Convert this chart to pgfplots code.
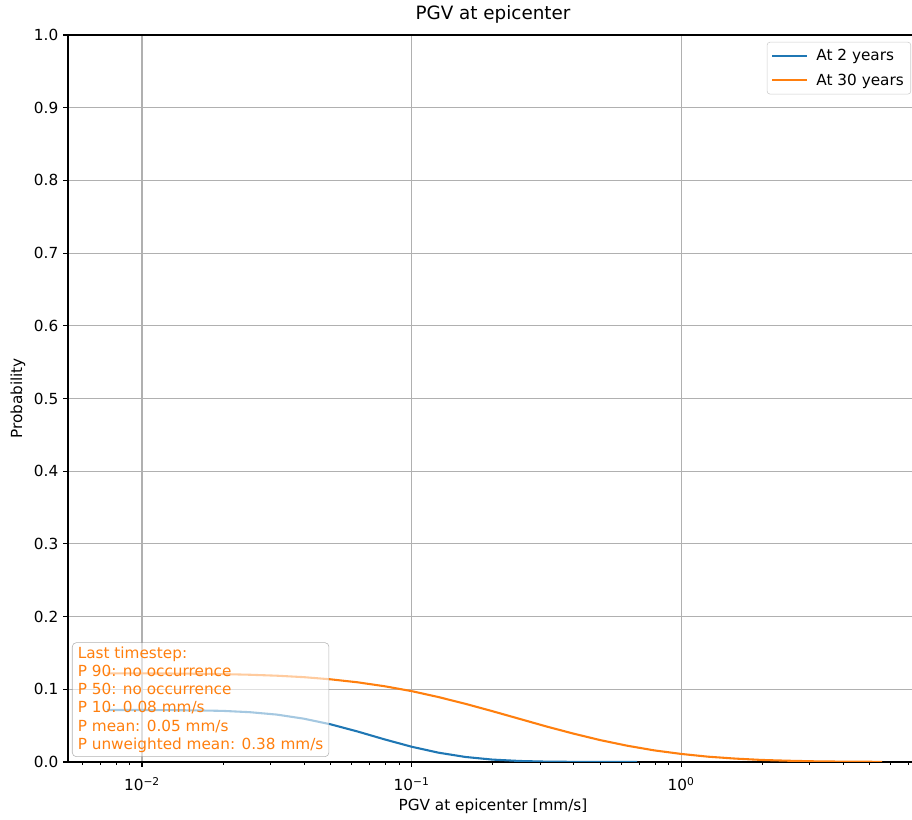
\documentclass[border=0pt]{standalone}
\usepackage{fontspec}
\setmainfont{DejaVu Sans}
\usepackage{pgfplots}
\pgfplotsset{compat=1.18}
\definecolor{c0}{HTML}{1F77B4}
\definecolor{c1}{HTML}{FF7F0E}
\definecolor{gridgray}{HTML}{B0B0B0}
\definecolor{legendgray}{HTML}{CCCCCC}
\definecolor{boxgray}{HTML}{808080}
\begin{document}
\begin{tikzpicture}
\path[use as bounding box] (-48.96pt,-41.76pt) rectangle (607.68pt,548.64pt);
\begin{axis}[
  at={(0,0)}, anchor=south west,
  scale only axis, width=612pt, height=523.44pt,
  xmode=log, xmin=0.0053117, xmax=7.57,
  ymin=0, ymax=1,
  ytick={0,0.1,0.2,0.3,0.4,0.5,0.6,0.7,0.8,0.9,1.0},
  /pgf/number format/assume math mode=true,
  yticklabel style={/pgf/number format/.cd, fixed, fixed zerofill, precision=1},
  xtick={0.01,0.1,1},
  xticklabels={10\textsuperscript{−2},10\textsuperscript{−1},10\textsuperscript{0}},
  xticklabel style={yshift=-4pt},
  minor xtick={0.006,0.007,0.008,0.009,0.02,0.03,0.04,0.05,0.06,0.07,0.08,0.09,0.2,0.3,0.4,0.5,0.6,0.7,0.8,0.9,2,3,4,5,6,7},
  tick align=outside, tick pos=left,
  major tick length=3.5pt, minor tick length=2pt,
  every tick/.style={black, line width=0.8pt},
  minor tick style={black, line width=0.6pt},
  grid=major, major grid style={color=gridgray, line width=0.8pt},
  axis line style={line width=0.8pt},
  tick label style={font=\fontsize{11}{13}\selectfont},
  title={PGV at epicenter},
  title style={at={(axis description cs:0.5,1.0101)}, anchor=base, yshift=0pt, inner sep=0pt, font=\fontsize{13.2}{15}\selectfont},
  xlabel={PGV at epicenter [mm/s]},
  xlabel style={at={(axis description cs:0.5,-0.0661)}, anchor=base, inner sep=0pt, font=\fontsize{11}{13}\selectfont},
  ylabel={Probability},
  ylabel style={at={(axis description cs:-0.0539,0.5)}, anchor=base, inner sep=0pt, font=\fontsize{11}{13}\selectfont},
  legend style={at={(rel axis cs:1,1)}, anchor=north east, xshift=-5pt, yshift=-5pt,
    draw=legendgray, rounded corners=2pt, fill=white, fill opacity=0.8, text opacity=1,
    font=\fontsize{11}{13}\selectfont, nodes={inner sep=2pt}, row sep=4pt, column sep=4pt,
    inner xsep=3pt, inner ysep=3pt},
  legend cell align=left,
  legend image code/.code={\draw[#1] (0pt,0pt) -- (25pt,0pt);},
]
\addplot[c0, line width=1.5pt] table {
x y
0.00741 0.0715
0.01000 0.0715
0.01259 0.0713
0.01585 0.0710
0.01995 0.0703
0.02512 0.0685
0.03162 0.0652
0.03981 0.0596
0.05012 0.0518
0.06310 0.0419
0.07943 0.0311
0.10000 0.0210
0.12590 0.0128
0.15850 0.0069
0.19950 0.0033
0.25120 0.0014
0.31620 0.0005
0.39810 0.0002
0.50120 0.00005
0.68700 0.0
};
\addlegendentry{At 2 years}
\addplot[c1, line width=1.5pt] table {
x y
0.00741 0.1219
0.01000 0.1218
0.01259 0.1217
0.01585 0.1214
0.01995 0.1209
0.02512 0.1200
0.03162 0.1187
0.03981 0.1167
0.05012 0.1137
0.06310 0.1096
0.07943 0.1042
0.10000 0.0975
0.12590 0.0893
0.15850 0.0800
0.19950 0.0699
0.25120 0.0594
0.31620 0.0489
0.39810 0.0391
0.50120 0.0301
0.63100 0.0224
0.79430 0.0160
1.00000 0.0111
1.25900 0.0073
1.58500 0.0047
1.99500 0.0028
2.51200 0.0017
3.16200 0.0009
3.98100 0.0005
5.57000 0.0002
};
\addlegendentry{At 30 years}
\node[anchor=south west, draw=boxgray, draw opacity=0.6, fill=white, fill opacity=0.6, text opacity=1,
  rounded corners=3pt, text=c1, align=left, inner xsep=4pt, inner ysep=3pt,
  font=\fontsize{11}{13.1}\selectfont]
  at (rel axis cs:0.0047,0.0069)
  {Last timestep:\\P 90: no occurrence\\P 50: no occurrence\\P 10: 0.08 mm/s\\P mean: 0.05 mm/s\\P unweighted mean: 0.38 mm/s};
\end{axis}
\end{tikzpicture}
\end{document}
